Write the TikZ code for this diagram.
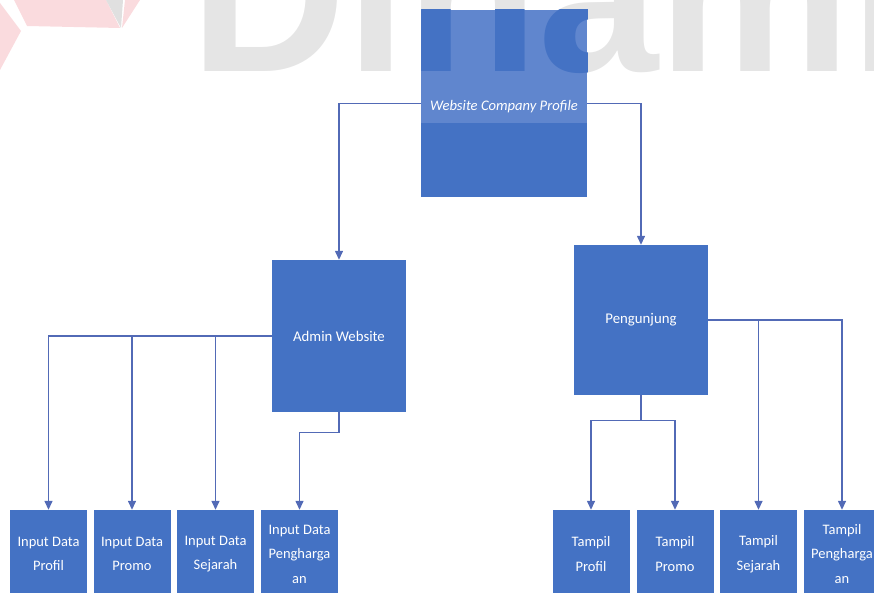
\documentclass[tikz,border=0pt]{standalone}
\usepackage{fontspec}
\setmainfont{Carlito}
\newfontfamily\markfont{Liberation Sans}
\usetikzlibrary{arrows.meta}

\definecolor{boxblue}{RGB}{68,114,196}
\definecolor{bandblue}{RGB}{96,134,206}
\definecolor{linkblue}{RGB}{82,106,182}
\definecolor{markgray}{RGB}{229,229,229}
\definecolor{logopink}{RGB}{250,219,222}
\definecolor{logogray}{RGB}{224,224,224}

\begin{document}
\begin{tikzpicture}[x=1pt, y=-1pt, font=\fontsize{14.5}{24.5}\selectfont]

        % Styles
        \tikzset{
          box/.style={fill=boxblue, text=white, align=center, inner sep=0pt},
          menu/.style={box, minimum width=77pt, minimum height=88pt},
          role/.style={box, minimum width=134pt, font=\fontsize{14.8}{17}\selectfont},
          caption/.style={text=white, inner sep=0pt},
          link/.style={draw=linkblue, line width=1.4pt, -{Triangle[width=8pt,length=9pt]}},
          wmark/.style={anchor=base west, inner sep=0pt, text=markgray,
                        font=\markfont\bfseries\fontsize{216}{216}\selectfont}
        }

        \useasboundingbox (0,0) rectangle (874,593);
        \clip (0,0) rectangle (874,593);

        % Watermark (background)
        \node[wmark] (markword) at (190,72) {Dinamika};
        \fill[logopink] (14,0) -- (106,0) -- (120,28) -- (27,26) -- cycle;
        \fill[logogray] (106,0) -- (123,0) -- (121,28) -- cycle;
        \fill[logopink] (125,0) -- (140,0) -- (122,28) -- cycle;
        \fill[logopink] (0,3) -- (21,31) -- (0,70) -- cycle;

        % Top level
        \node[box, minimum width=166pt, minimum height=187pt] (site) at (504,103.5) {};
        \begin{scope}
          \clip (421,10) rectangle (587,123);
          \fill[bandblue] (421,10) rectangle (587,123);
          \node[wmark, text=boxblue] (markcut) at (190,72) {Dinamika};
        \end{scope}
        \node[caption, font=\itshape\fontsize{14.6}{17}\selectfont] (sitelabel) at (504,107) {Website Company Profile};

        % Users
        \node[role, minimum height=152pt] (admin) at (339,336) {Admin Website};
        \node[role, minimum height=150pt] (visitor) at (641,320) {Pengunjung};

        % Admin menus
        \node[menu] (inprofil) at (48.5,554) {Input Data\\Profil};
        \node[menu] (inpromo) at (132,554) {Input Data\\Promo};
        \node[menu] (insejarah) at (215.5,554) {Input Data\\Sejarah};
        \node[menu] (inaward) at (299.5,554) {Input Data\\Pengharga\\an};

        % Visitor menus
        \node[menu] (showprofil) at (591,554) {Tampil\\Profil};
        \node[menu] (showpromo) at (675,554) {Tampil\\Promo};
        \node[menu] (showsejarah) at (758.5,554) {Tampil\\Sejarah};
        \node[menu] (showaward) at (842,554) {Tampil\\Pengharga\\an};

        % Connectors
        \draw[link] (site.west) -| (admin.north);
        \draw[link] (site.east) -| (visitor.north);

        \coordinate (adminsplit) at ([yshift=-20pt]admin.south);
        \draw[link] (admin.west) -| (inprofil.north);
        \draw[link] (inpromo.north |- admin.west) -- (inpromo.north);
        \draw[link] (insejarah.north |- admin.west) -- (insejarah.north);
        \draw[link] (admin.south) -- (adminsplit) -| (inaward.north);

        \coordinate (visitsplit) at ([yshift=-25pt]visitor.south);
        \draw[link] (visitor.east) -| (showaward.north);
        \draw[link] (showsejarah.north |- visitor.east) -- (showsejarah.north);
        \draw[link] (visitor.south) -- (visitsplit) -| (showprofil.north);
        \draw[link] (visitsplit) -| (showpromo.north);

\end{tikzpicture}
\end{document}
